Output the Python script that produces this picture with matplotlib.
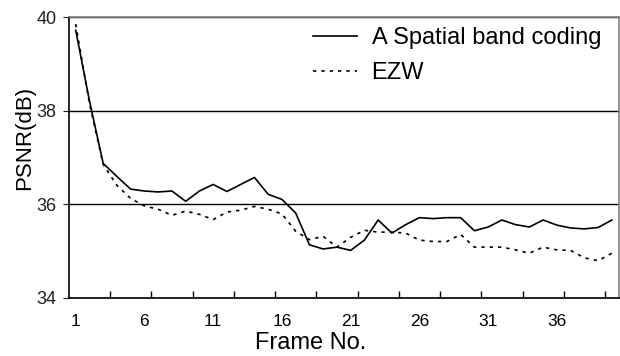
import matplotlib.pyplot as plt
from matplotlib.ticker import FixedLocator

plt.rcParams['font.family'] = ['Liberation Sans', 'DejaVu Sans']

# Frame numbers
frames = list(range(1, 41))

# PSNR values (dB)
spatial_band = [39.72, 38.21, 36.87, 36.59, 36.32, 36.28, 36.26, 36.28, 36.06, 36.28,
                36.42, 36.27, 36.42, 36.57, 36.21, 36.10, 35.81, 35.13, 35.04, 35.08,
                35.01, 35.23, 35.66, 35.38, 35.56, 35.71, 35.69, 35.71, 35.71, 35.43,
                35.51, 35.66, 35.56, 35.51, 35.66, 35.55, 35.49, 35.47, 35.50, 35.66]
ezw = [39.85, 38.15, 36.85, 36.40, 36.12, 35.96, 35.89, 35.76, 35.85, 35.78,
       35.67, 35.83, 35.87, 35.95, 35.89, 35.79, 35.42, 35.24, 35.31, 35.08,
       35.29, 35.44, 35.40, 35.40, 35.38, 35.23, 35.20, 35.20, 35.35, 35.08,
       35.08, 35.08, 35.02, 34.95, 35.08, 35.02, 35.01, 34.85, 34.79, 34.95]

xlabels = [1, 6, 11, 16, 21, 26, 31, 36]
ylabels = [34, 36, 38, 40]

fig = plt.figure(figsize=(6.2, 3.56), dpi=100)
ax = fig.add_axes([0.111, 0.164, 0.887, 0.788])

ax.plot(frames, spatial_band, color='black', lw=1.2, label='A Spatial band coding')
ax.plot(frames, ezw, color='black', lw=1.2, linestyle=(0, (2, 3)), label='EZW')

ax.set_xlim(0.5, 40.5)
ax.set_ylim(34, 40)

# y axis: gridlines on the ticks
ax.set_yticks(ylabels)
ax.yaxis.grid(True, color='black', lw=1)
ax.tick_params(axis='y', direction='out', length=4, labelsize=13, pad=5, colors='#222222')

# x axis: labels every 5 frames, tick marks every 3 frames
ax.xaxis.set_major_locator(FixedLocator(xlabels))
ax.xaxis.set_minor_locator(FixedLocator([3.5 + 3 * k for k in range(13)]))
ax.tick_params(axis='x', which='major', length=0, labelsize=12.5, pad=12)
ax.tick_params(axis='x', which='minor', direction='in', length=5, width=1)

for s in ['left', 'bottom']:
    ax.spines[s].set_linewidth(1.2)
for s in ['top', 'right']:
    ax.spines[s].set_color('#808080')
    ax.spines[s].set_linewidth(1.2)

ax.set_xlabel('Frame No.', fontsize=17, va='center')
ax.xaxis.set_label_coords(0.44, -0.163)
ax.set_ylabel('PSNR(dB)', fontsize=16, va='center')
ax.yaxis.set_label_coords(-0.08, 0.57)

ax.legend(loc='upper left', bbox_to_anchor=(313 / 620, 1 - 27 / 356),
          bbox_transform=fig.transFigure, frameon=False, fontsize=17,
          handlelength=1.86, handletextpad=0.62, labelspacing=0.56,
          borderpad=0, borderaxespad=0)

fig.savefig('out.png', dpi=100)
